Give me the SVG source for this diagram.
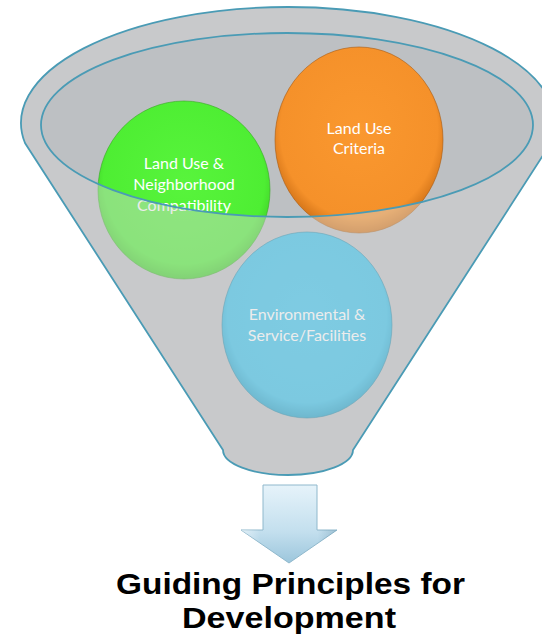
<svg xmlns="http://www.w3.org/2000/svg" width="542" height="640" viewBox="0 0 542 640">
  <defs>
    <radialGradient id="gGreen" cx="50%" cy="45%" r="55%">
      <stop offset="0" stop-color="#58f43c"/>
      <stop offset="0.85" stop-color="#4eee33"/>
      <stop offset="1" stop-color="#3fcf28"/>
    </radialGradient>
    <radialGradient id="gOrange" cx="50%" cy="45%" r="55%">
      <stop offset="0" stop-color="#fa982f"/>
      <stop offset="0.85" stop-color="#f5912a"/>
      <stop offset="1" stop-color="#d27318"/>
    </radialGradient>
    <radialGradient id="gBlue" cx="50%" cy="45%" r="55%">
      <stop offset="0" stop-color="#38c4ee"/>
      <stop offset="0.85" stop-color="#33c0ea"/>
      <stop offset="1" stop-color="#1a9fc8"/>
    </radialGradient>
    <linearGradient id="gArrow" x1="0" y1="0" x2="0" y2="1">
      <stop offset="0" stop-color="#e6f3fa"/>
      <stop offset="0.6" stop-color="#c3dfee"/>
      <stop offset="1" stop-color="#9cc6dc"/>
    </linearGradient>
    <linearGradient id="gArrowSide" x1="0" y1="0" x2="1" y2="0">
      <stop offset="0" stop-color="#ffffff" stop-opacity="0.5"/>
      <stop offset="0.2" stop-color="#ffffff" stop-opacity="0"/>
      <stop offset="0.8" stop-color="#5c8aa3" stop-opacity="0"/>
      <stop offset="1" stop-color="#5c8aa3" stop-opacity="0.35"/>
    </linearGradient>
  </defs>
  <style>
    .rim { fill: none; stroke: #4a9bb5; stroke-width: 1.8; }
    .lbl { font-family: Lato, "Open Sans", "Liberation Sans", sans-serif; font-size: 16px; fill: #ffffff; text-anchor: middle; }
    .title { font-family: "Liberation Sans", Arial, sans-serif; font-weight: bold; font-size: 30px; fill: #000000; text-anchor: middle; }
    .circ { stroke-width: 1; stroke-opacity: 0.6; }
  </style>

  <rect width="542" height="640" fill="#ffffff"/>

  <g id="funnel-back">
    <path d="M25,143 A267,116 0 1 1 551,143 L353,450 A65,25 0 0 1 223,450 Z" fill="#bdc0c3"/>
  </g>

  <g id="node-land-use-neighborhood">
    <ellipse cx="184" cy="190" rx="86" ry="89" fill="url(#gGreen)" class="circ" stroke="#36a822"/>
    <text class="lbl" x="184" y="169">Land Use &amp;</text>
    <text class="lbl" x="184" y="190">Neighborhood</text>
    <text class="lbl" x="184" y="211">Compatibility</text>
  </g>

  <g id="node-land-use-criteria">
    <ellipse cx="359" cy="140" rx="84" ry="93" fill="url(#gOrange)" class="circ" stroke="#a85a10"/>
    <text class="lbl" x="359" y="134">Land Use</text>
    <text class="lbl" x="359" y="154">Criteria</text>
  </g>

  <g id="node-environmental">
    <ellipse cx="307" cy="325" rx="85" ry="93" fill="url(#gBlue)" class="circ" stroke="#167fa0"/>
    <text class="lbl" x="307" y="320">Environmental &amp;</text>
    <text class="lbl" x="307" y="341">Service/Facilities</text>
  </g>

  <g id="funnel-front">
    <path d="M25,143 A267,116 0 1 1 551,143 L353,450 A65,25 0 0 1 223,450 Z M41,125 A246,92 0 1 0 533,125 A246,92 0 1 0 41,125 Z" fill="#d4d4d4" fill-opacity="0.45" fill-rule="evenodd"/>
    <path class="rim" d="M25,143 A267,116 0 1 1 551,143 L353,450 A65,25 0 0 1 223,450 Z"/>
    <ellipse class="rim" cx="287" cy="125" rx="246" ry="92"/>
  </g>

  <g id="connectors">
    <g id="down-arrow">
      <path d="M263,485 L317,485 L317,530 L337,530 L289,563 L241,530 L263,530 Z" fill="url(#gArrow)" stroke="#8fb8cc" stroke-width="1"/>
      <path d="M263,485 L317,485 L317,530 L337,530 L289,563 L241,530 L263,530 Z" fill="url(#gArrowSide)"/>
    </g>
  </g>

  <g id="title">
    <text class="title" x="290.5" y="594" textLength="349" lengthAdjust="spacingAndGlyphs">Guiding Principles for</text>
    <text class="title" x="289" y="628" textLength="214" lengthAdjust="spacingAndGlyphs">Development</text>
  </g>
</svg>
